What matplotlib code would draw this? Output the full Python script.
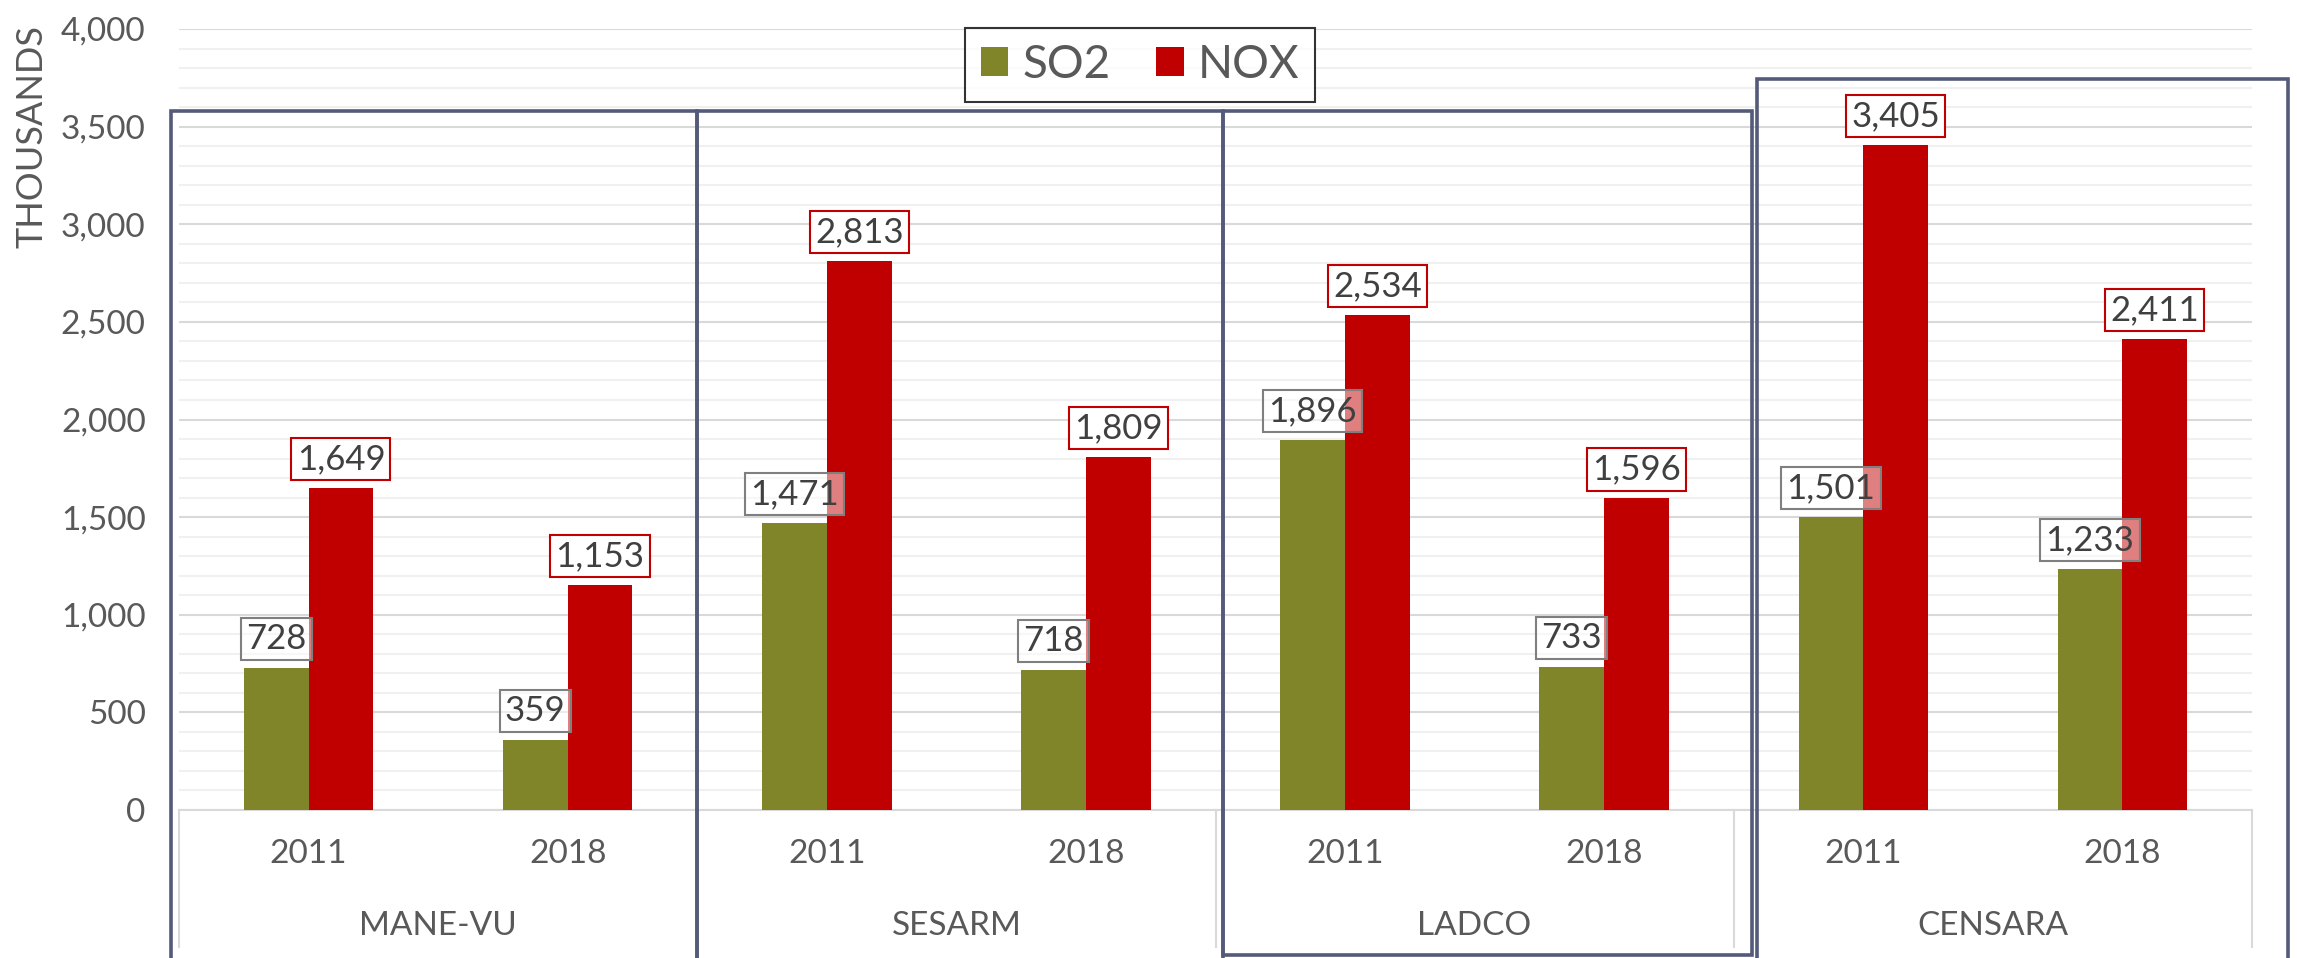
import numpy as np
import matplotlib.pyplot as plt
from matplotlib.patches import Rectangle
from matplotlib.lines import Line2D
from matplotlib.ticker import FuncFormatter, MultipleLocator

plt.rcParams['font.family'] = ['Lato', 'DejaVu Sans']

regions = ['MANE-VU', 'SESARM', 'LADCO', 'CENSARA']
years = ['2011', '2018']
so2 = [728, 359, 1471, 718, 1896, 733, 1501, 1233]
nox = [1649, 1153, 2813, 1809, 2534, 1596, 3405, 2411]

c_so2 = '#7f8528'
c_nox = '#c00000'
txt = '#595959'
frame = '#545b7a'

W, H = 2297, 958
fig = plt.figure(figsize=(W / 100, H / 100), dpi=100)
ax = fig.add_axes([179 / W, 1 - 810 / H, (2252 - 179) / W, (810 - 29) / H])

x = np.arange(len(so2))
bw = 0.25
ax.bar(x - bw / 2, so2, bw, color=c_so2, zorder=3, label='SO2')
ax.bar(x + bw / 2, nox, bw, color=c_nox, zorder=3, label='NOX')

ax.set_xlim(-0.5, len(so2) - 0.5)
ax.set_ylim(0, 4000)
ax.yaxis.set_major_locator(MultipleLocator(500))
ax.yaxis.set_minor_locator(MultipleLocator(100))
ax.yaxis.set_major_formatter(FuncFormatter(lambda v, p: f'{int(v):,}'))
ax.grid(axis='y', which='major', color='#d9d9d9', lw=1.5, zorder=0)
ax.grid(axis='y', which='minor', color='#f0f0f0', lw=1.5, zorder=0)
ax.tick_params(axis='y', which='both', length=0, pad=24, labelsize=24, labelcolor=txt)
ax.set_xticks([])
for s in ['left', 'right', 'top']:
    ax.spines[s].set_visible(False)
ax.spines['bottom'].set_color('#d9d9d9')
ax.spines['bottom'].set_linewidth(1.5)

# two-level category axis
tr = ax.get_xaxis_transform()
for i in x:
    ax.text(i, -0.056, years[i % 2], transform=tr, ha='center', va='center',
            fontsize=24, color=txt)
for g, name in enumerate(regions):
    ax.text(2 * g + 0.5, -0.148, name, transform=tr, ha='center', va='center',
            fontsize=24, color=txt)
for b in np.arange(-0.5, len(so2), 2):
    ax.add_line(Line2D([b, b], [0, -0.175], transform=tr, color='#d9d9d9',
                       lw=1.5, clip_on=False))

# data labels
for xi, v in zip(x - bw / 2, so2):
    ax.annotate(f'{v:,}', (xi, v), xytext=(0, 13), textcoords='offset pixels',
                ha='center', va='bottom', fontsize=25, color='#404040', zorder=5,
                bbox=dict(boxstyle='square,pad=0.15', fc=(1, 1, 1, 0.5),
                          ec='#7f7f7f', lw=1.5))
for xi, v in zip(x + bw / 2, nox):
    ax.annotate(f'{v:,}', (xi, v), xytext=(0, 13), textcoords='offset pixels',
                ha='center', va='bottom', fontsize=25, color='#404040', zorder=5,
                bbox=dict(boxstyle='square,pad=0.15', fc='white', ec=c_nox, lw=1.5))

# region frames (hand drawn in the original)
boxes = [(-0.53, 1.5, 3580, -1200), (1.5, 3.53, 3580, -1200),
         (3.53, 5.57, 3580, -745), (5.59, 7.64, 3745, -1200)]
for x0, x1, top, bot in boxes:
    ax.add_patch(Rectangle((x0, bot), x1 - x0, top - bot, fill=False, ec=frame,
                           lw=2.6, clip_on=False, zorder=6))

leg = ax.legend(loc='center', bbox_to_anchor=(1140 / W, 1 - 65 / H),
                bbox_transform=fig.transFigure, ncol=2, fontsize=33,
                frameon=True, fancybox=False, handlelength=0.6, handleheight=0.6,
                handletextpad=0.3, columnspacing=1.0, borderpad=0.35,
                borderaxespad=0)
leg.get_frame().set_edgecolor('black')
leg.get_frame().set_linewidth(1.5)
for t in leg.get_texts():
    t.set_color(txt)

fig.text(32 / W, 1 - 137 / H, 'THOUSANDS', rotation=90, ha='center', va='center',
         fontsize=26, color=txt)

fig.savefig('out.png', dpi=100)
